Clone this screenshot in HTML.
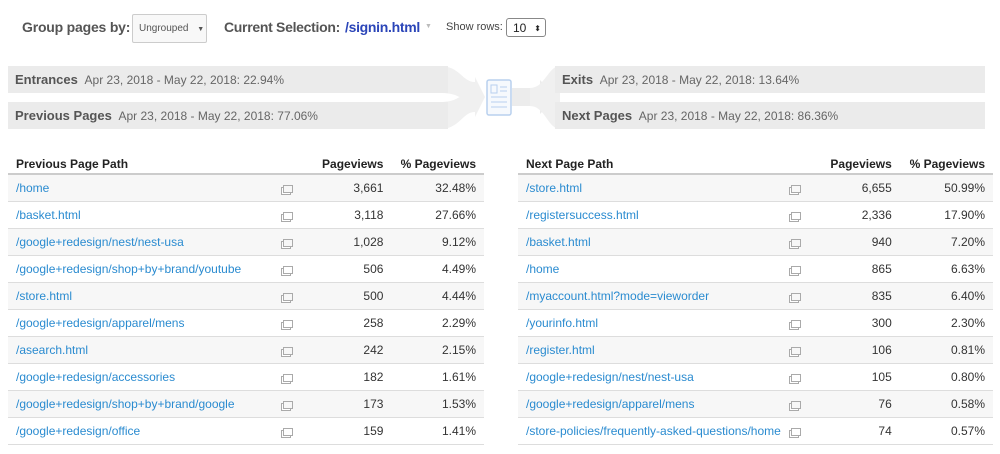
<!DOCTYPE html>
<html><head><style>
body{margin:0;width:1000px;height:454px;background:#fff;font-family:"Liberation Sans",sans-serif;position:relative;overflow:hidden;color:#444}
.a{position:absolute;white-space:nowrap}
.band{position:absolute;background:#ebebeb;height:27px;font-size:12px;line-height:27px;color:#666;padding-left:7px;box-sizing:border-box;white-space:nowrap}
.band b{color:#555;font-size:13px;margin-right:4px}
table{position:absolute;border-collapse:collapse;font-size:12px;top:157px}
th{font-weight:bold;color:#222;height:16px;text-align:right;padding:0;border-bottom:2px solid #ccc;vertical-align:top}
th.l{text-align:left;padding-left:8px}
td{height:26px;border-bottom:1px solid #ddd;padding:0;text-align:right;color:#333}
td.l{text-align:left;padding-left:8px;color:#2a8bd0}
tr:nth-child(even) td{background:#f7f7f7}
.ic{display:inline-block;width:8px;height:6px;border:1px solid #aaa;position:relative;top:1px;box-shadow:-2px 2px 0 -1px #fff,-2px 2px 0 0 #aaa}
</style></head><body>
<div class="a" style="left:22px;top:19px;font-size:14px;font-weight:bold;color:#555;letter-spacing:-0.2px">Group pages by:</div>
<div class="a" style="left:132px;top:14px;width:75px;height:29px;border:1px solid #ccc;border-radius:2px;background:#f8f8f8;font-size:10px;line-height:28px;color:#555;padding-left:6px;box-sizing:border-box">Ungrouped <span style="font-size:7px;margin-left:6px">▼</span></div>
<div class="a" style="left:224px;top:19px;font-size:14px;font-weight:bold;color:#555;letter-spacing:-0.3px">Current Selection:</div>
<div class="a" style="left:345px;top:19px;font-size:14px;font-weight:bold;color:#2b45b8;letter-spacing:-0.3px">/signin.html</div>
<div class="a" style="left:425px;top:23px;font-size:7px;color:#bbb">▼</div>
<div class="a" style="left:446px;top:21px;font-size:11px;color:#444">Show rows:</div>
<div class="a" style="left:506px;top:18px;width:40px;height:19px;border:1px solid #888;border-radius:3px;font-size:12px;line-height:19px;padding-left:6px;box-sizing:border-box;color:#222">10 <span style="position:absolute;right:4px;font-size:8px">⬍</span></div>
<svg class="a" style="left:0;top:60px" width="1000" height="75">
<path d="M440 6 C460 6 462 22 475 22 L475 17 L485 37 L475 57 L475 52 C462 52 460 69 440 69 L440 42 C455 42 458 37 460 37 C458 37 455 33 440 33Z" fill="#f0f0f0"/>
<path d="M512 28 L540 28 L540 20 L556 37 L540 54 L540 46 L512 46Z" fill="#ececec"/>
<path d="M530 28 C545 28 548 6 560 6 L560 69 C548 69 545 46 530 46Z" fill="#f0f0f0"/>
<rect x="487" y="20" width="24" height="35" rx="2" fill="#f6f9fd" stroke="#b8d0ee" stroke-width="1.5"/><rect x="491" y="25" width="6" height="8" fill="none" stroke="#b8d0ee"/><path d="M500 27h7M500 31h7M491 37h16M491 42h16M491 47h16" stroke="#b8d0ee"/>
</svg>
<div class="band" style="left:8px;top:66px;width:440px"><b>Entrances</b> Apr 23, 2018 - May 22, 2018: 22.94%</div>
<div class="band" style="left:8px;top:102px;width:440px"><b>Previous Pages</b> Apr 23, 2018 - May 22, 2018: 77.06%</div>
<div class="band" style="left:555px;top:66px;width:430px"><b>Exits</b> Apr 23, 2018 - May 22, 2018: 13.64%</div>
<div class="band" style="left:555px;top:102px;width:430px"><b>Next Pages</b> Apr 23, 2018 - May 22, 2018: 86.36%</div>
<table style="left:8px;width:476px">
<tr><th class="l" style="width:260px">Previous Page Path</th><th style="width:20px"></th><th style="width:93px">Pageviews</th><th style="width:95px;padding-right:8px">% Pageviews</th></tr>
<tr><td class="l">/home</td><td><span class="ic"></span></td><td>3,661</td><td style="padding-right:8px">32.48%</td></tr>
<tr><td class="l">/basket.html</td><td><span class="ic"></span></td><td>3,118</td><td style="padding-right:8px">27.66%</td></tr>
<tr><td class="l">/google+redesign/nest/nest-usa</td><td><span class="ic"></span></td><td>1,028</td><td style="padding-right:8px">9.12%</td></tr>
<tr><td class="l">/google+redesign/shop+by+brand/youtube</td><td><span class="ic"></span></td><td>506</td><td style="padding-right:8px">4.49%</td></tr>
<tr><td class="l">/store.html</td><td><span class="ic"></span></td><td>500</td><td style="padding-right:8px">4.44%</td></tr>
<tr><td class="l">/google+redesign/apparel/mens</td><td><span class="ic"></span></td><td>258</td><td style="padding-right:8px">2.29%</td></tr>
<tr><td class="l">/asearch.html</td><td><span class="ic"></span></td><td>242</td><td style="padding-right:8px">2.15%</td></tr>
<tr><td class="l">/google+redesign/accessories</td><td><span class="ic"></span></td><td>182</td><td style="padding-right:8px">1.61%</td></tr>
<tr><td class="l">/google+redesign/shop+by+brand/google</td><td><span class="ic"></span></td><td>173</td><td style="padding-right:8px">1.53%</td></tr>
<tr><td class="l">/google+redesign/office</td><td><span class="ic"></span></td><td>159</td><td style="padding-right:8px">1.41%</td></tr>
</table>
<table style="left:518px;width:475px">
<tr><th class="l" style="width:260px">Next Page Path</th><th style="width:20px"></th><th style="width:93px">Pageviews</th><th style="width:95px;padding-right:8px">% Pageviews</th></tr>
<tr><td class="l">/store.html</td><td><span class="ic"></span></td><td>6,655</td><td style="padding-right:8px">50.99%</td></tr>
<tr><td class="l">/registersuccess.html</td><td><span class="ic"></span></td><td>2,336</td><td style="padding-right:8px">17.90%</td></tr>
<tr><td class="l">/basket.html</td><td><span class="ic"></span></td><td>940</td><td style="padding-right:8px">7.20%</td></tr>
<tr><td class="l">/home</td><td><span class="ic"></span></td><td>865</td><td style="padding-right:8px">6.63%</td></tr>
<tr><td class="l">/myaccount.html?mode=vieworder</td><td><span class="ic"></span></td><td>835</td><td style="padding-right:8px">6.40%</td></tr>
<tr><td class="l">/yourinfo.html</td><td><span class="ic"></span></td><td>300</td><td style="padding-right:8px">2.30%</td></tr>
<tr><td class="l">/register.html</td><td><span class="ic"></span></td><td>106</td><td style="padding-right:8px">0.81%</td></tr>
<tr><td class="l">/google+redesign/nest/nest-usa</td><td><span class="ic"></span></td><td>105</td><td style="padding-right:8px">0.80%</td></tr>
<tr><td class="l">/google+redesign/apparel/mens</td><td><span class="ic"></span></td><td>76</td><td style="padding-right:8px">0.58%</td></tr>
<tr><td class="l">/store-policies/frequently-asked-questions/home</td><td><span class="ic"></span></td><td>74</td><td style="padding-right:8px">0.57%</td></tr>
</table>
</body></html>
